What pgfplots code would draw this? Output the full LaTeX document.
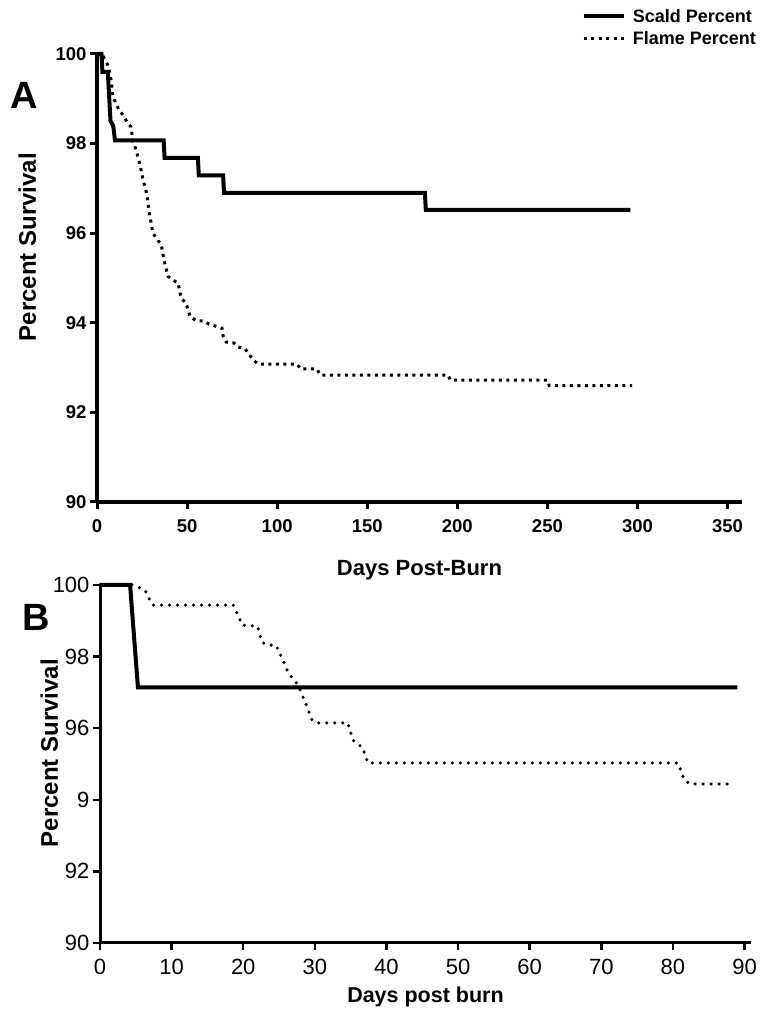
\documentclass[border=0pt]{standalone}
\usepackage{fontspec}
\setmainfont{Liberation Sans}
\usepackage{pgfplots}
\pgfplotsset{compat=1.18}
\begin{document}
\begin{tikzpicture}[x=1pt,y=1pt]
\path[use as bounding box] (0,0) rectangle (766,1019);
% panel A
\begin{axis}[
    at={(97pt,517pt)}, anchor=south west,
    scale only axis, width=645pt, height=448pt,
    xmin=0, xmax=358, ymin=90, ymax=100,
    axis lines=left, axis line style={line width=3.5pt,-},
    xtick={0,50,...,350}, ytick={90,92,...,100},
    tick align=outside, major tick length=7pt,
    tick style={line width=3pt,black},
    clip=false,
    /pgf/number format/assume math mode=true,
    ticklabel style={font=\fontsize{18.5}{18.5}\selectfont\bfseries},
    xticklabel style={yshift=-7pt},
    xlabel={Days Post-Burn}, ylabel={Percent Survival},
    x label style={at={(axis description cs:0.5,-0.152)},anchor=center,font=\fontsize{22}{22}\selectfont\bfseries},
    y label style={at={(axis description cs:-0.108,0.569)},anchor=center,rotate=0,font=\fontsize{24}{24}\selectfont\bfseries},
    legend style={at={(axis description cs:1.025,1.105)},anchor=north east,draw=none,fill=none,
        font=\fontsize{18}{18}\selectfont\bfseries,row sep=4pt,column sep=5pt,inner sep=0pt},
    legend cell align=left,
    legend image code/.code={\draw[#1] (0pt,0pt) -- (40pt,0pt);},
]
\addplot[black,line width=4pt,line join=miter] coordinates {
(0,100) (2.5,100) (3,99.6) (6,99.6) (7.5,98.5) (9,98.4) (10,98.07) (37,98.07) (37.5,97.68)
(56,97.68) (56.5,97.29) (70,97.29) (70.5,96.9) (182,96.9) (182.5,96.52) (296,96.52)};
\addlegendentry{Scald Percent}
\addplot[black,line width=3pt,dash pattern=on 3pt off 4.5pt] coordinates {
(0,100) (2.8,100) (6,99.75) (7,99.6) (7.8,99.42) (8.9,99.04) (12.2,98.75) (14.4,98.64)
(16.7,98.48) (18.9,98.37) (20,98.04) (21.7,97.86) (23.9,97.52) (25.6,97.19) (27.8,96.85)
(28.9,96.47) (31.1,96.0) (33.9,95.83) (35.6,95.76) (37.2,95.4) (39.4,95.04) (41.7,94.96)
(45,94.89) (46.7,94.55) (49.4,94.44) (51.7,94.13) (55.6,94.04) (59.4,94.04) (62.2,93.97)
(69.4,93.88) (70,93.7) (71.7,93.57) (76,93.55) (78.3,93.46) (82.2,93.42) (86.7,93.17)
(89.4,93.08) (111,93.08) (113,92.97) (122,92.97) (124,92.83) (195,92.83) (196,92.72)
(250,92.72) (251,92.6) (297,92.6)};
\addlegendentry{Flame Percent}
\end{axis}
\node[font=\fontsize{38}{38}\selectfont\bfseries] at (24,924) {A};
% panel B
\begin{axis}[
    at={(100pt,76pt)}, anchor=south west,
    scale only axis, width=651pt, height=358pt,
    xmin=0, xmax=90.9, ymin=90, ymax=100,
    axis lines=left, axis line style={line width=3pt,-},
    xtick={0,10,...,90}, ytick={90,92,...,100},
    yticklabels={90,92,9,96,98,100},
    tick align=outside, major tick length=7pt,
    tick style={line width=2.5pt,black},
    clip=false,
    /pgf/number format/assume math mode=true,
    ticklabel style={font=\fontsize{22}{22}\selectfont},
    xticklabel style={yshift=-6pt},
    xlabel={Days post burn}, ylabel={Percent Survival},
    x label style={at={(axis description cs:0.5,-0.151)},anchor=center,font=\fontsize{21.5}{21.5}\selectfont\bfseries},
    y label style={at={(axis description cs:-0.078,0.53)},anchor=center,rotate=0,font=\fontsize{24}{24}\selectfont\bfseries},
]
\addplot[black,line width=4pt] coordinates {
(0,100) (4.2,100) (5.3,97.14) (89,97.14)};
\addplot[black,line width=3.5pt,line cap=round,dash pattern=on 0pt off 8pt] coordinates {
(0,100) (4.6,100) (6.3,99.86) (6.8,99.64) (7.3,99.44) (18.6,99.44) (19.4,99.1) (19.8,98.88)
(22,98.85) (22.6,98.4) (23.5,98.32) (24.6,98.32) (25.4,97.96) (26.3,97.54) (27.7,97.2)
(28.8,96.65) (29.6,96.23) (30.3,96.15) (34.6,96.15) (35.3,95.67) (36.7,95.45) (37.4,95.03)
(80.7,95.03) (81.6,94.55) (82.4,94.44) (88,94.44)};
\end{axis}
\node[font=\fontsize{38}{38}\selectfont\bfseries] at (36,402) {B};
\end{tikzpicture}
\end{document}
